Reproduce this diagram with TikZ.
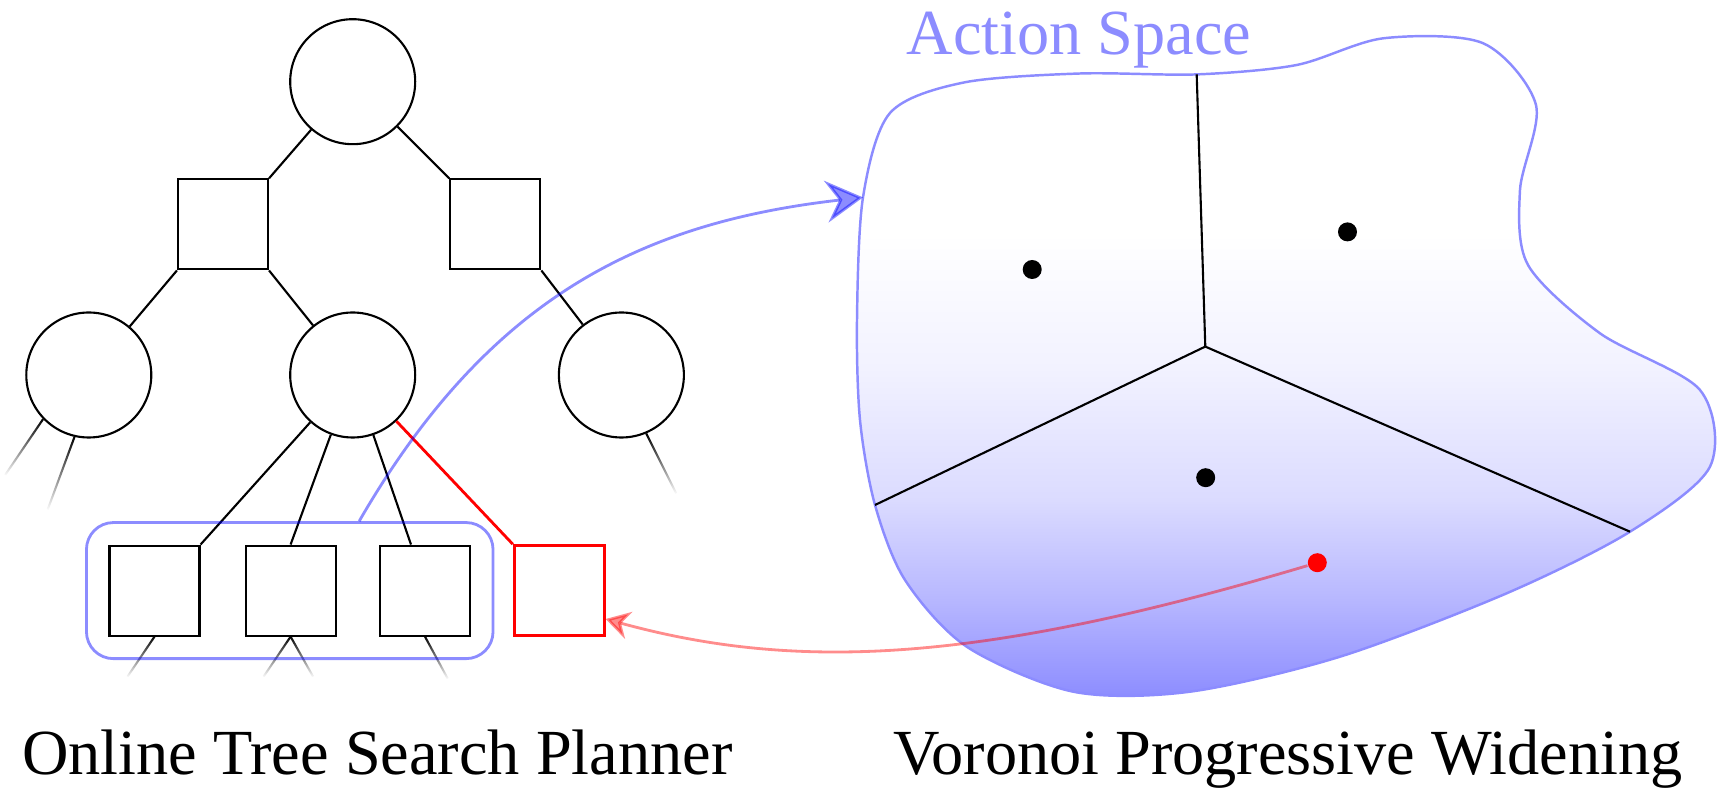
\documentclass[tikz,border=0pt]{standalone}
\usepackage{fontspec}
\setmainfont{Liberation Serif}
\usetikzlibrary{arrows.meta,positioning,fit,fadings}
\pgfdeclareverticalshading{spaceshade}{100bp}{color(0bp)=(blue!45); color(25bp)=(blue!45); color(32.5bp)=(blue!28); color(40bp)=(blue!14); color(50bp)=(blue!5); color(60bp)=(white); color(100bp)=(white)}

\begin{document}
\begin{tikzpicture}[
  every node/.style={font=\fontsize{18.3}{22}\selectfont},
  st/.style={circle,draw=black,line width=0.6pt,minimum size=1.25cm,inner sep=0pt},
  ac/.style={rectangle,draw=black,line width=0.6pt,minimum size=0.9cm,inner sep=0pt},
  ln/.style={line width=0.6pt},
  stub/.style={line width=0.6pt,path fading=south},
  seed/.style={circle,fill=black,minimum size=0.19cm,inner sep=0pt},
  ar/.style={blue,opacity=0.45,line width=0.8pt,-{Stealth[length=3.7mm,width=4.2mm,inset=1.3mm]}},
  arb/.style={red,opacity=0.45,line width=0.8pt,-{Stealth[length=2.4mm,width=2.8mm,inset=0.8mm]}}]
\useasboundingbox (0,0) rectangle (17.19,-8.03);
% search tree
\node[st] (s0) at (3.527,-0.817) {};
\node[ac] (a1) at (2.23,-2.244) {};
\node[ac] (a2) at (4.953,-2.244) {};
\node[st] (s1) at (0.888,-3.75) {};
\node[st] (s2) at (3.527,-3.75) {};
\node[st] (s3) at (6.214,-3.75) {};
\node[ac] (b1) at (1.545,-5.906) {};
\node[ac] (b2) at (2.906,-5.906) {};
\node[ac] (b3) at (4.25,-5.906) {};
\node[ac,draw=red,line width=0.8pt] (bnew) at (5.592,-5.906) {};
\draw[ln] (s0) -- (a1.north east);
\draw[ln] (s0) -- (a2.north west);
\draw[ln] (a1.south west) -- (s1);
\draw[ln] (a1.south east) -- (s2);
\draw[ln] (a2.south east) -- (s3);
\foreach \y/\p in {b1/north east,b2/north} \draw[ln] (s2) -- (\y.\p);
\draw[ln] (s2) -- ([xshift=-1.4mm]b3.north);
\draw[ln,red,line width=0.8pt] (s2) -- (bnew.north west);
% cut-off branches
\draw[stub] (s1.224) -- +(-0.379,-0.558);
\draw[stub] (s1.257) -- +(-0.268,-0.726);
\draw[stub] (s3.293) -- +(0.30,-0.60);
\draw[stub] (b1.south) -- +(-0.27,-0.40);
\draw[stub] (b2.south) -- +(-0.27,-0.40);
\draw[stub] (b2.south) -- +(0.225,-0.40);
\draw[stub] (b3.south) -- +(0.227,-0.42);
\node[draw=blue,draw opacity=0.45,line width=0.8pt,rounded corners=0.27cm,inner sep=0.22cm,fit=(b1)(b3)] (grp) {};
% action space
\shadedraw[draw=blue!45,line width=0.7pt,shading=spaceshade] plot[smooth cycle] coordinates {
  (8.63,-1.974) (8.90,-1.13) (9.633,-0.826) (10.80,-0.735) (11.967,-0.744)
  (12.967,-0.65) (13.833,-0.383) (14.833,-0.433) (15.36,-1.05) (15.20,-1.90)
  (15.28,-2.65) (16.00,-3.333) (17.00,-3.90) (17.10,-4.667) (16.30,-5.317)
  (15.067,-5.933) (13.40,-6.567) (11.90,-6.917) (10.733,-6.917) (9.667,-6.467)
  (9.05,-5.80) (8.75,-5.05) (8.60,-4.20) (8.57,-3.20)};
\coordinate (entry) at (8.63,-1.974);
\coordinate (vc) at (12.053,-3.466);
\coordinate (vt) at (11.967,-0.744);
\coordinate (vl) at (8.75,-5.05);
\coordinate (vr) at (16.30,-5.317);
\foreach \v in {vt,vl,vr} \draw[ln] (vc) -- (\v);
\node[seed] (p1) at (10.322,-2.695) {};
\node[seed] (p2) at (13.475,-2.319) {};
\node[seed] (p3) at (12.057,-4.777) {};
\node[seed,fill=red] (pnew) at (13.173,-5.627) {};
\node[blue!45,anchor=base] (aslabel) at (10.79,-0.543) {Action Space};
% links
\draw[ar] (grp.45) .. controls +(1.30,2.25) and +(-2.20,-0.25) .. (entry);
\draw[arb] (pnew) .. controls +(-3.353,-1.001) and +(1.928,-0.53) .. ([yshift=-2.84mm]bnew.east);
% captions
\node[anchor=base] (lt) at (3.775,-7.75) {Online Tree Search Planner};
\node[anchor=base] (rt) at (12.88,-7.75) {Voronoi Progressive Widening};
\end{tikzpicture}
\end{document}
